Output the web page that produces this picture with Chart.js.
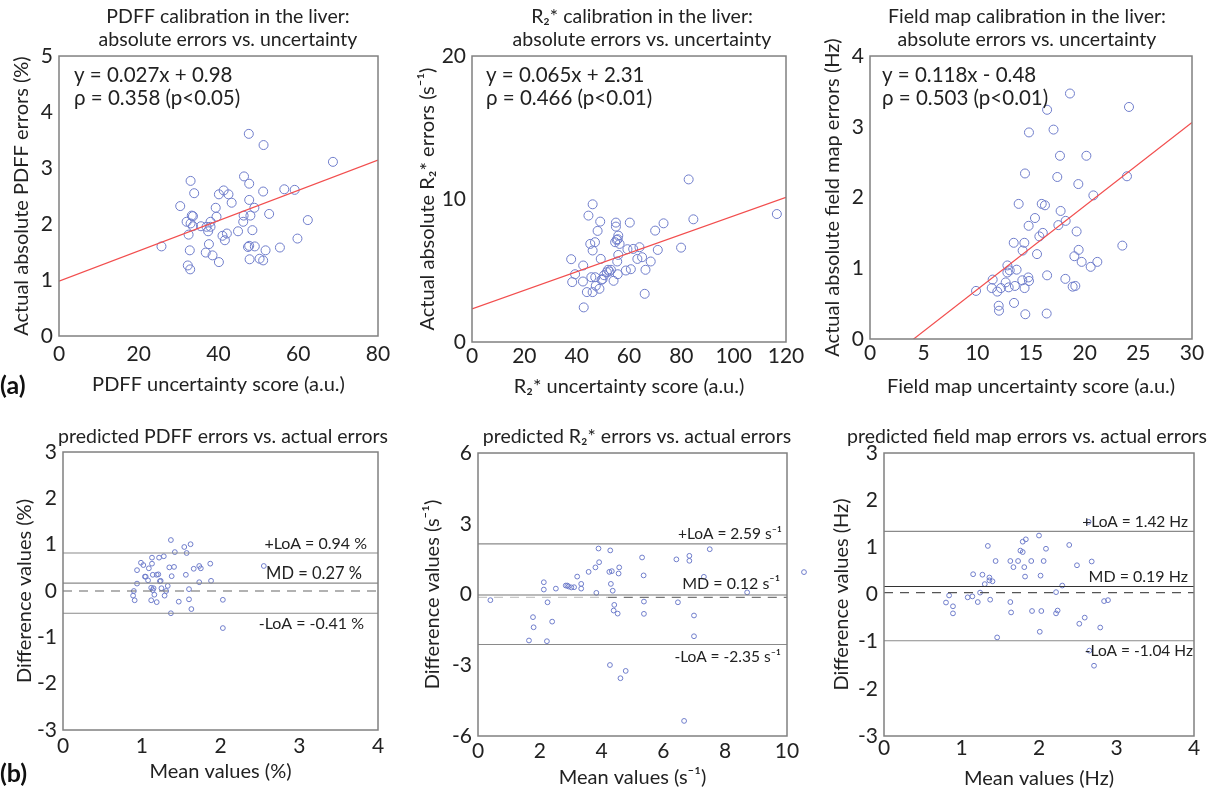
<!DOCTYPE html>
<html>
<head>
<meta charset="utf-8">
<script src="https://cdn.jsdelivr.net/npm/chart.js@4.4.1/dist/chart.umd.min.js"></script>
<style>
html, body { margin: 0; padding: 0; background: #fff; width: 1215px; height: 793px; overflow: hidden; }
canvas { position: absolute; }
.tag { position: absolute; font: bold 25px/30px Lato, 'Open Sans', sans-serif; color: #111; }
</style>
</head>
<body>
<canvas id="c1" width="456" height="400" style="left:0px;top:0px"></canvas>
<canvas id="c2" width="464" height="400" style="left:410px;top:0px"></canvas>
<canvas id="c3" width="424" height="400" style="left:815px;top:0px"></canvas>
<canvas id="c4" width="446" height="373" style="left:0px;top:420px"></canvas>
<canvas id="c5" width="454" height="373" style="left:410px;top:420px"></canvas>
<canvas id="c6" width="414" height="373" style="left:820px;top:420px"></canvas>
<div class="tag" style="left:0px;top:369px">(a)</div>
<div class="tag" style="left:0px;top:757px">(b)</div>
<script>
// ── Data ─────────────────────────────────────────────────
// (a) uncertainty score vs. actual absolute error
const pdffScore = [25.7, 30.4, 33.0, 33.9, 32.0, 33.0, 33.6, 33.3, 32.5, 32.8, 32.3, 32.9, 33.6, 35.6, 37.0, 37.4, 38.0, 38.0, 37.6, 36.8, 38.5, 40.1, 39.3, 39.5, 40.1, 41.3, 42.5, 43.3, 41.0, 41.6, 42.1, 44.9, 46.2, 46.4, 47.6, 47.7, 47.7, 48.0, 49.0, 48.5, 47.4, 47.7, 49.1, 47.8, 50.3, 51.2, 51.8, 51.3, 51.2, 52.7, 55.4, 56.5, 59.1, 59.8, 62.4, 68.7, 46.3];
const pdffErr   = [1.60, 2.32, 2.77, 2.55, 2.04, 2.01, 2.14, 2.15, 1.81, 1.53, 1.26, 1.19, 1.96, 1.96, 1.95, 1.87, 2.04, 1.95, 1.64, 1.49, 1.44, 1.32, 2.29, 2.13, 2.53, 2.60, 2.53, 2.38, 1.79, 1.71, 1.83, 1.87, 2.04, 2.85, 3.61, 2.72, 2.43, 2.15, 2.29, 1.89, 1.59, 1.61, 1.60, 1.37, 1.38, 1.35, 1.53, 3.41, 2.58, 2.18, 1.58, 2.62, 2.61, 1.74, 2.07, 3.11, 2.15];
const r2Score = [37.9, 38.3, 39.4, 42.5, 42.4, 42.7, 43.9, 44.5, 45.2, 45.6, 46.1, 46.1, 46.1, 47.0, 47.1, 47.3, 48.0, 48.7, 49.0, 49.2, 49.5, 49.9, 50.5, 51.5, 52.0, 52.5, 53.1, 54.1, 55.0, 55.0, 54.7, 55.3, 55.9, 55.7, 56.4, 55.9, 55.5, 55.7, 58.8, 59.4, 60.3, 60.7, 61.6, 63.2, 64.0, 65.0, 66.0, 66.3, 68.3, 70.0, 71.0, 73.2, 79.9, 82.8, 84.6, 116.5];
const r2Err   = [5.79, 4.19, 4.74, 5.35, 4.23, 2.42, 3.49, 8.84, 6.86, 4.53, 9.63, 6.40, 3.49, 6.98, 4.53, 3.93, 7.77, 3.72, 8.42, 5.81, 4.35, 4.40, 4.67, 4.88, 5.05, 4.93, 5.05, 4.28, 8.35, 8.07, 6.98, 7.14, 7.44, 7.19, 6.86, 6.09, 5.63, 4.74, 5.00, 6.49, 8.35, 5.09, 6.51, 5.81, 6.63, 5.93, 3.37, 5.05, 5.63, 7.79, 6.44, 8.30, 6.60, 11.37, 8.58, 8.95];
const fmScore = [9.88, 11.34, 11.43, 11.86, 11.99, 12.02, 12.2, 12.64, 12.80, 12.80, 12.92, 13.02, 13.39, 13.42, 13.5, 13.66, 13.85, 14.19, 14.22, 14.38, 14.44, 14.4, 14.47, 14.75, 14.81, 14.81, 14.78, 15.37, 15.56, 15.78, 16.1, 16.0, 16.3, 16.5, 16.5, 16.46, 17.1, 17.45, 17.55, 17.7, 17.76, 18.2, 18.23, 18.63, 18.88, 19.13, 19.04, 19.25, 19.41, 19.44, 19.72, 20.16, 20.56, 20.81, 21.18, 23.51, 23.94, 24.13];
const fmErr   = [0.68, 0.72, 0.84, 0.67, 0.47, 0.40, 0.72, 0.80, 1.04, 0.94, 0.73, 0.97, 1.36, 0.51, 0.75, 0.98, 1.91, 0.83, 1.25, 1.36, 2.34, 0.72, 0.35, 0.87, 2.92, 0.82, 1.60, 1.71, 1.20, 1.45, 1.50, 1.91, 1.89, 3.24, 0.90, 0.36, 2.96, 2.29, 1.61, 2.59, 1.81, 0.85, 1.67, 3.47, 0.74, 0.75, 1.17, 1.52, 2.19, 1.26, 1.09, 2.59, 1.02, 2.03, 1.09, 1.32, 2.30, 3.28];
// regression lines [slope, intercept]
const pdffFit = [0.027, 0.98];
const r2Fit   = [0.065, 2.31];
const fmFit   = [0.118, -0.48];

// (b) Bland-Altman: mean vs. difference
const pdffMean = [1.37, 1.62, 1.54, 1.57, 1.42, 1.28, 1.22, 1.13, 0.99, 1.02, 1.13, 1.09, 0.94, 1.35, 1.41, 1.66, 1.73, 1.75, 1.87, 2.55, 1.04, 1.05, 1.08, 1.14, 1.19, 1.21, 1.23, 1.24, 1.38, 1.56, 0.94, 1.73, 1.88, 1.12, 1.15, 1.14, 1.25, 1.33, 1.31, 0.90, 1.60, 0.89, 0.91, 1.12, 1.19, 1.16, 1.29, 1.47, 1.60, 1.63, 2.03, 1.37, 2.03];
const pdffDiff = [1.10, 1.01, 0.95, 0.82, 0.84, 0.75, 0.72, 0.72, 0.61, 0.56, 0.59, 0.49, 0.45, 0.51, 0.52, 0.48, 0.54, 0.49, 0.59, 0.54, 0.31, 0.31, 0.23, 0.35, 0.35, 0.36, 0.21, 0.22, 0.32, 0.35, 0.16, 0.19, 0.22, 0.07, 0.06, 0.02, 0.06, 0.11, 0.00, 0.00, 0.04, -0.10, -0.20, -0.20, -0.24, -0.08, -0.10, -0.23, -0.18, -0.39, -0.19, -0.48, -0.80];
const r2Mean = [0.40, 1.65, 1.78, 1.80, 2.13, 2.13, 2.23, 2.25, 2.40, 2.52, 2.84, 2.89, 2.93, 3.02, 3.11, 3.21, 3.34, 3.34, 3.58, 3.80, 3.83, 3.90, 3.92, 4.25, 4.28, 4.30, 4.33, 4.36, 4.41, 4.39, 4.27, 4.52, 4.55, 4.57, 4.61, 4.78, 5.31, 5.36, 5.37, 5.37, 6.42, 6.47, 6.67, 6.84, 6.84, 6.99, 6.99, 7.31, 7.50, 8.71, 10.55];
const r2Diff = [-0.24, -1.95, -0.96, -1.39, 0.52, 0.21, -1.98, -0.33, -1.15, 0.25, 0.38, 0.38, 0.34, 0.30, 0.31, 0.76, 0.45, 0.25, 0.96, 1.15, 0.07, 1.95, 1.37, 0.96, 1.87, 0.45, 0.99, 0.16, -0.44, -0.68, -2.99, -0.81, 0.89, 1.15, -3.55, -3.24, 1.57, 0.81, -0.30, -0.82, 1.49, -0.33, -5.36, 1.64, 1.43, -0.89, -1.77, 0.75, 1.92, 0.09, 0.95];
const fmMean = [0.80, 0.84, 0.89, 0.89, 1.08, 1.14, 1.15, 1.21, 1.24, 1.27, 1.30, 1.34, 1.36, 1.36, 1.37, 1.40, 1.44, 1.46, 1.63, 1.63, 1.64, 1.67, 1.73, 1.76, 1.79, 1.79, 1.81, 1.82, 1.83, 1.90, 1.91, 2.00, 2.01, 2.02, 2.03, 2.06, 2.09, 2.22, 2.22, 2.24, 2.30, 2.39, 2.49, 2.52, 2.59, 2.65, 2.68, 2.71, 2.79, 2.84, 2.89, 2.64];
const fmDiff = [-0.17, -0.02, -0.25, -0.40, -0.06, -0.04, 0.43, -0.16, 0.04, 0.42, 0.22, 1.03, 0.36, 0.30, -0.11, 0.28, 0.71, -0.91, 0.71, -0.16, -0.38, 0.58, 0.71, 0.93, 0.90, 1.12, 0.58, 0.38, 1.17, 0.71, -0.35, 1.25, -0.79, 0.40, -0.35, 0.71, 0.97, 0.05, -0.40, -0.34, 0.19, 1.05, 0.62, -0.62, -0.49, -1.19, 0.70, -1.51, -0.70, -0.14, -0.12, 1.54];
// reference lines as drawn: [+LoA, MD, zero, -LoA]
const pdffLines = [0.82, 0.17, 0.0, -0.48];
const r2Lines   = [2.15, -0.02, -0.12, -2.12];
const fmLines   = [1.34, 0.17, 0.04, -0.98];

// tick labels
const pdffXTicks = [0, 20, 40, 60, 80];
const pdffYTicks = [0, 1, 2, 3, 4, 5];
const r2XTicks   = [0, 20, 40, 60, 80, 100, 120];
const r2YTicks   = [0, 10, 20];
const fmXTicks   = [0, 5, 10, 15, 20, 25, 30];
const fmYTicks   = [0, 1, 2, 3, 4];
const baXTicks   = [0, 1, 2, 3, 4];
const baYTicks   = [-3, -2, -1, 0, 1, 2, 3];
const r2BaXTicks = [0, 2, 4, 6, 8, 10];
const r2BaYTicks = [-6, -3, 0, 3, 6];

// ── Style ────────────────────────────────────────────────
const FONT = "Lato, 'Open Sans', sans-serif";
const INK = '#222';
const BLUE = '#6f7dcb';
const RED = '#f24e4e';
const FRAME = '#808080';

// frame, text annotations, and points that sit outside the plot box
const notesPlugin = {
    id: 'notes',
    afterDraw(chart, args, opts) {
        const { ctx, chartArea: a, scales } = chart;
        ctx.save();
        ctx.strokeStyle = FRAME;
        ctx.lineWidth = 1.5;
        ctx.strokeRect(a.left, a.top, a.right - a.left, a.bottom - a.top);
        ctx.fillStyle = INK;
        ctx.textBaseline = 'middle';
        (opts.items || []).forEach(n => {
            const x = n.right ? a.right - n.dx : a.left + n.dx;
            const y = n.value !== undefined ? scales.y.getPixelForValue(n.value) + n.dy : a.top + n.dy;
            ctx.font = (n.size || 20.5) + 'px ' + FONT;
            ctx.textAlign = n.right ? 'right' : 'left';
            ctx.fillText(n.text, x, y);
        });
        if (opts.outside) {
            chart.getSortedVisibleDatasetMetas().forEach(meta => {
                meta.data.forEach(pt => {
                    if (pt.x > a.right + 1 || pt.x < a.left - 1) pt.draw(ctx);
                });
            });
        }
        ctx.restore();
    }
};

function hLine(y, from, to, color, dash, width) {
    return {
        data: [{ x: from, y }, { x: to, y }],
        showLine: true, pointRadius: 0,
        borderColor: color, borderWidth: width || 1.2, borderDash: dash || []
    };
}

function makePanel(id, p) {
    const xMin = p.xTicks[0], xMax = p.xTicks[p.xTicks.length - 1];
    const yMin = p.yTicks[0], yMax = p.yTicks[p.yTicks.length - 1];
    const datasets = [];
    (p.lines || []).forEach(l => datasets.push(hLine(l.y, l.from !== undefined ? l.from : xMin, l.to !== undefined ? l.to : xMax, l.color, l.dash)));
    if (p.fit) {
        datasets.push({
            data: [xMin, xMax].map(x => ({ x, y: p.fit[0] * x + p.fit[1] })),
            showLine: true, pointRadius: 0, borderColor: RED, borderWidth: 1.2
        });
    }
    datasets.push({
        data: p.xs.map((x, i) => ({ x, y: p.ys[i] })),
        pointRadius: p.r, pointBorderColor: BLUE, pointBackgroundColor: 'rgba(0,0,0,0)',
        pointBorderWidth: 1
    });

    const tickFont = { family: FONT, size: 21 };
    const titleFont = { family: FONT, size: 20 };
    new Chart(document.getElementById(id), {
        type: 'scatter',
        data: { datasets },
        options: {
            responsive: false, animation: false, devicePixelRatio: 1,
            layout: { padding: 0 },
            plugins: {
                legend: { display: false },
                tooltip: { enabled: false },
                title: {
                    display: true, text: p.title, color: INK,
                    font: { family: FONT, size: 19.5, weight: 'normal', lineHeight: 1.18 },
                    padding: { top: p.tPad[0], bottom: p.tPad[1] }
                },
                notes: { items: p.notes, outside: !!p.outside }
            },
            scales: {
                x: {
                    type: 'linear', min: xMin, max: xMax,
                    afterBuildTicks: s => { s.ticks = p.xTicks.map(v => ({ value: v })); },
                    ticks: { color: INK, font: tickFont, padding: p.xTickPad, maxRotation: 0 },
                    grid: { display: false, drawTicks: false }, border: { display: false },
                    title: { display: true, text: p.xTitle, color: INK, font: titleFont, padding: { top: 0, bottom: p.xTitlePad } },
                    afterFit: s => { s.height = p.xH; }
                },
                y: {
                    type: 'linear', min: yMin, max: yMax,
                    afterBuildTicks: s => { s.ticks = p.yTicks.map(v => ({ value: v })); },
                    ticks: { color: INK, font: tickFont, padding: 6 },
                    grid: { display: false, drawTicks: false }, border: { display: false },
                    title: { display: true, text: p.yTitle, color: INK, font: titleFont, padding: { top: p.yTitlePad, bottom: 0 } },
                    afterFit: s => { s.width = p.yW; }
                },
                yR: {
                    type: 'linear', position: 'right', display: true,
                    ticks: { display: false }, grid: { display: false, drawTicks: false }, border: { display: false },
                    afterFit: s => { s.width = p.rW; }
                }
            }
        },
        plugins: [notesPlugin]
    });
}

// ── (a) calibration panels ───────────────────────────────
makePanel('c1', {
    title: ['PDFF calibration in the liver:', 'absolute errors vs. uncertainty'],
    xTitle: 'PDFF uncertainty score (a.u.)', yTitle: 'Actual absolute PDFF errors (%)',
    xs: pdffScore, ys: pdffErr, fit: pdffFit, r: 4.5,
    xTicks: pdffXTicks, yTicks: pdffYTicks,
    tPad: [5.5, 4.5], yW: 59, rW: 78, xH: 64, xTickPad: 5.4, xTitlePad: 3, yTitlePad: 10,
    notes: [{ text: 'y = 0.027x + 0.98', dx: 15, dy: 19 }, { text: 'ρ = 0.358 (p<0.05)', dx: 15, dy: 42 }]
});
makePanel('c2', {
    title: ['R₂* calibration in the liver:', 'absolute errors vs. uncertainty'],
    xTitle: 'R₂* uncertainty score (a.u.)', yTitle: 'Actual absolute R₂* errors (s⁻¹)',
    xs: r2Score, ys: r2Err, fit: r2Fit, r: 4.5,
    xTicks: r2XTicks, yTicks: r2YTicks,
    tPad: [5.5, 4.5], yW: 62, rW: 88, xH: 58, xTickPad: 1.4, xTitlePad: 1, yTitlePad: 6,
    notes: [{ text: 'y = 0.065x + 2.31', dx: 14, dy: 19 }, { text: 'ρ = 0.466 (p<0.01)', dx: 14, dy: 42 }]
});
makePanel('c3', {
    title: ['Field map calibration in the liver:', 'absolute errors vs. uncertainty'],
    xTitle: 'Field map uncertainty score (a.u.)', yTitle: 'Actual absolute field map errors (Hz)',
    xs: fmScore, ys: fmErr, fit: fmFit, r: 4.5,
    xTicks: fmXTicks, yTicks: fmYTicks,
    tPad: [5.5, 4.5], yW: 55, rW: 47, xH: 61, xTickPad: 1.4, xTitlePad: 1, yTitlePad: 6,
    notes: [{ text: 'y = 0.118x - 0.48', dx: 12, dy: 19 }, { text: 'ρ = 0.503 (p<0.01)', dx: 12, dy: 42 }]
});

// ── (b) Bland-Altman panels ──────────────────────────────
makePanel('c4', {
    title: 'predicted PDFF errors vs. actual errors',
    xTitle: 'Mean values (%)', yTitle: 'Difference values (%)',
    xs: pdffMean, ys: pdffDiff, r: 2.4,
    xTicks: baXTicks, yTicks: baYTicks,
    lines: [
        { y: pdffLines[0], color: '#8a8a8a' }, { y: pdffLines[1], color: '#8a8a8a' },
        { y: pdffLines[2], color: '#666', dash: [9, 7] }, { y: pdffLines[3], color: '#8a8a8a' }
    ],
    tPad: [5.5, 3.5], yW: 63, rW: 68, xH: 63, xTickPad: 4, xTitlePad: 9, yTitlePad: 13,
    notes: [
        { text: '+LoA = 0.94 %', right: true, dx: 11, value: pdffLines[0], dy: -9, size: 16 },
        { text: 'MD = 0.27 %', right: true, dx: 16, value: pdffLines[1], dy: -9, size: 16.5 },
        { text: '-LoA = -0.41 %', right: true, dx: 14, value: pdffLines[3], dy: 11, size: 16 }
    ]
});
makePanel('c5', {
    title: 'predicted R₂* errors vs. actual errors',
    xTitle: 'Mean values (s⁻¹)', yTitle: 'Difference values (s⁻¹)',
    xs: r2Mean, ys: r2Diff, r: 2.4, outside: true,
    xTicks: r2BaXTicks, yTicks: r2BaYTicks,
    lines: [
        { y: r2Lines[0], color: '#8a8a8a' }, { y: r2Lines[1], color: '#777' },
        { y: r2Lines[2], color: '#c8c8c8', dash: [9, 7], to: 4.2 },
        { y: r2Lines[2], color: '#777', dash: [9, 7], from: 4.2 },
        { y: r2Lines[3], color: '#8a8a8a' }
    ],
    tPad: [5.5, 4.5], yW: 68, rW: 77, xH: 57, xTickPad: 3, xTitlePad: 3, yTitlePad: 11,
    notes: [
        { text: '+LoA = 2.59 s⁻¹', right: true, dx: 5, value: r2Lines[0], dy: -10, size: 15.5 },
        { text: 'MD = 0.12 s⁻¹', right: true, dx: 7, value: r2Lines[1], dy: -11, size: 16 },
        { text: '-LoA = -2.35 s⁻¹', right: true, dx: 6, value: r2Lines[3], dy: 13, size: 15.5 }
    ]
});
makePanel('c6', {
    title: 'predicted field map errors vs. actual errors',
    xTitle: 'Mean values (Hz)', yTitle: 'Difference values (Hz)',
    xs: fmMean, ys: fmDiff, r: 2.4,
    xTicks: baXTicks, yTicks: baYTicks,
    lines: [
        { y: fmLines[0], color: '#8a8a8a' }, { y: fmLines[1], color: '#333' },
        { y: fmLines[2], color: '#555', dash: [9, 7] }, { y: fmLines[3], color: '#8a8a8a' }
    ],
    tPad: [5.5, 4.5], yW: 64, rW: 40, xH: 57, xTickPad: 0, xTitlePad: 2, yTitlePad: 10,
    notes: [
        { text: '+LoA = 1.42 Hz', right: true, dx: 6, value: fmLines[0], dy: -9, size: 15.5 },
        { text: 'MD = 0.19 Hz', right: true, dx: 6, value: fmLines[1], dy: -10, size: 16 },
        { text: '-LoA = -1.04 Hz', right: true, dx: 1, value: fmLines[3], dy: 10, size: 15.5 }
    ]
});
</script>
</body>
</html>
